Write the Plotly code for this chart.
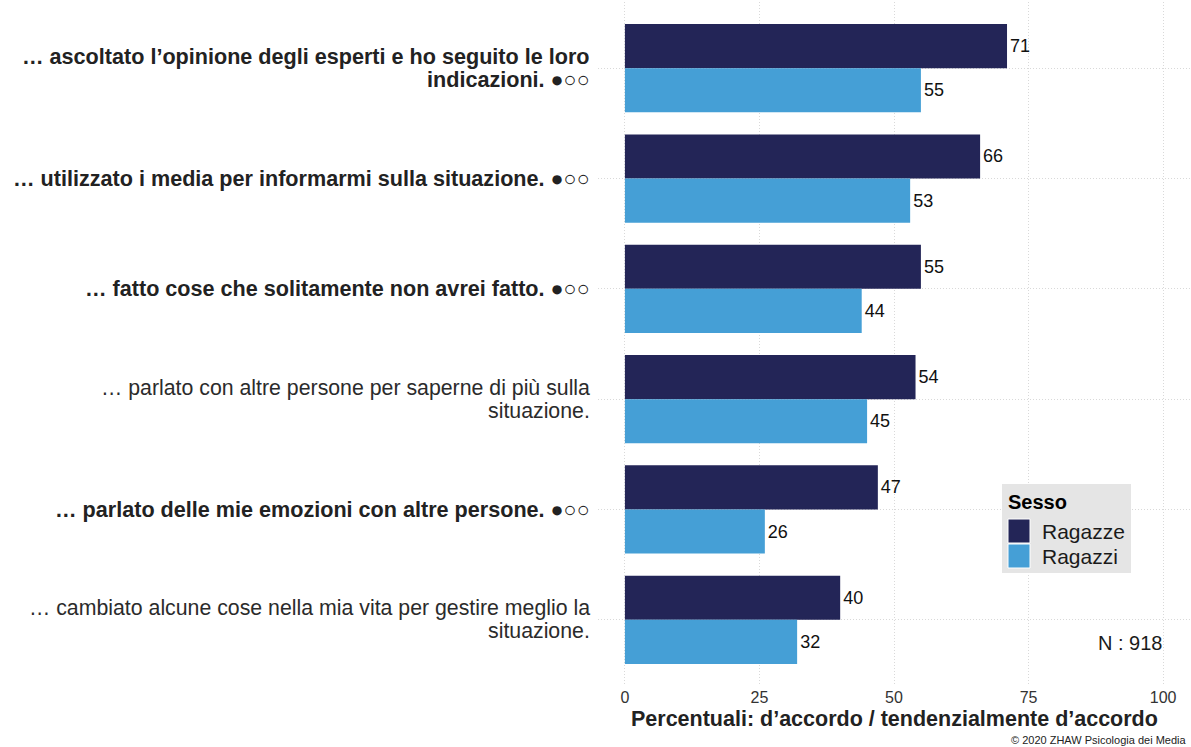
import plotly.graph_objects as go

# Survey items (top to bottom) and whether they are marked as significant
items = [
    "… ascoltato l’opinione degli esperti e ho seguito le loro<br>indicazioni. ●○○",
    "… utilizzato i media per informarmi sulla situazione. ●○○",
    "… fatto cose che solitamente non avrei fatto. ●○○",
    "… parlato con altre persone per saperne di più sulla<br>situazione.",
    "… parlato delle mie emozioni con altre persone. ●○○",
    "… cambiato alcune cose nella mia vita per gestire meglio la<br>situazione.",
]
bold_items = [True, True, True, False, True, False]
ragazze = [71, 66, 55, 54, 47, 40]
ragazzi = [55, 53, 44, 45, 26, 32]
series_names = ["Ragazze", "Ragazzi"]
series_colors = ["#232557", "#459FD6"]
x_ticks = [0, 25, 50, 75, 100]

W, H = 1191, 747
ML, MR, MT, MB = 598, 1, 2, 61
PW, PH = W - ML - MR, H - MT - MB


def px_x(p):
    return (p - ML) / PW


def px_y(p):
    return (H - MB - p) / PH


cats = [f"c{i}" for i in range(len(items))]
font_family = "Liberation Sans, Arial, sans-serif"
grid_col = "#d9d9d9"
grid_dash = "1px,2px"
line_gap = 23  # px between the lines of a wrapped label

fig = go.Figure()
for name, vals, col in zip(series_names, [ragazze, ragazzi], series_colors):
    fig.add_trace(go.Bar(
        y=cats, x=vals, name=name, orientation="h",
        marker=dict(color=col, line=dict(width=0)),
        text=[str(v) for v in vals], textposition="outside",
        textfont=dict(size=18, color="#111111", family=font_family),
        cliponaxis=False, showlegend=False,
    ))

annotations = []
for c, label, b in zip(cats, items, bold_items):
    lines = label.split("<br>")
    k = len(lines)
    for i, ln in enumerate(lines):
        txt = f"<b>{ln}</b>" if b else ln
        annotations.append(dict(
            x=px_x(592), xref="paper", y=c, yref="y", text=txt,
            xanchor="right", yanchor="middle", align="right", showarrow=False,
            yshift=((k - 1) / 2 - i) * line_gap,
            font=dict(size=21.6 if b else 21.3,
                      color="#222222" if b else "#2b2b2b", family=font_family),
        ))

# axis title and footer texts
annotations.append(dict(
    x=px_x(894), xref="paper", y=px_y(719), yref="paper",
    text="<b>Percentuali: d’accordo / tendenzialmente d’accordo</b>",
    xanchor="center", yanchor="middle", showarrow=False,
    font=dict(size=21.5, color="#222222", family=font_family),
))
annotations.append(dict(
    x=px_x(1188), xref="paper", y=px_y(740), yref="paper",
    text="© 2020 ZHAW Psicologia dei Media",
    xanchor="right", yanchor="middle", showarrow=False,
    font=dict(size=11, color="#222222", family=font_family),
))
annotations.append(dict(
    x=px_x(1164), xref="paper", y=px_y(643), yref="paper",
    text="N : 918", xanchor="right", yanchor="middle", showarrow=False,
    font=dict(size=20, color="#1a1a1a", family=font_family),
))

# legend drawn by hand so the keys can be large squares
shapes = [dict(type="rect", xref="paper", yref="paper",
               x0=px_x(1002), x1=px_x(1131), y0=px_y(573), y1=px_y(484),
               fillcolor="#e5e5e5", line=dict(width=0), layer="above")]
annotations.append(dict(
    x=px_x(1006), xref="paper", y=px_y(502), yref="paper",
    text="<b>Sesso</b>", xanchor="left", yanchor="middle", showarrow=False,
    font=dict(size=20, color="#000000", family=font_family),
))
key_tops = [519, 544]
for name, col, top in zip(series_names, series_colors, key_tops):
    shapes.append(dict(type="rect", xref="paper", yref="paper",
                       x0=px_x(1008), x1=px_x(1030), y0=px_y(top + 24), y1=px_y(top),
                       fillcolor=col, line=dict(color="white", width=1), layer="above"))
    annotations.append(dict(
        x=px_x(1040), xref="paper", y=px_y(top + 12), yref="paper",
        text=name, xanchor="left", yanchor="middle", showarrow=False,
        font=dict(size=21, color="#1a1a1a", family=font_family),
    ))

n = len(cats)
fig.update_layout(
    width=W, height=H,
    margin=dict(l=ML, r=MR, t=MT, b=MB, autoexpand=False),
    paper_bgcolor="white", plot_bgcolor="white",
    barmode="group", bargap=0.2, bargroupgap=0,
    font=dict(family=font_family),
    xaxis=dict(range=[-5, 105], tickvals=x_ticks, ticktext=[str(t) for t in x_ticks],
               showgrid=True, gridcolor=grid_col, griddash=grid_dash, gridwidth=1,
               zeroline=False, showline=False, ticks="",
               tickfont=dict(size=16, color="#333333"), fixedrange=True),
    yaxis=dict(categoryorder="array", categoryarray=cats,
               range=[n - 1 + 0.6, -0.6],
               showticklabels=False, showgrid=True, gridcolor=grid_col,
               griddash=grid_dash, gridwidth=1, zeroline=False, ticks="", fixedrange=True),
    annotations=annotations, shapes=shapes,
)

fig.write_html("out.html")
